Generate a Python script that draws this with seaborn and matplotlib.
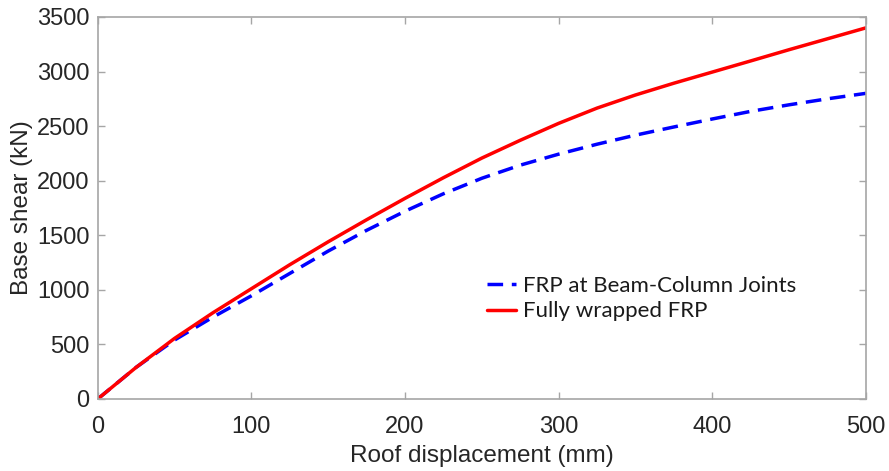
import matplotlib
matplotlib.use("Agg")
import matplotlib.pyplot as plt
import seaborn as sns
import pandas as pd

# Data
displacement = [0, 25, 50, 75, 100, 125, 150, 175, 200, 225, 250, 275, 300,
                325, 350, 375, 400, 425, 450, 475, 500]
shear_joints = [0, 290, 540, 750, 945, 1150, 1355, 1545, 1720, 1880, 2022, 2142,
                2243, 2334, 2417, 2492, 2565, 2635, 2695, 2750, 2800]
shear_full = [0, 290, 555, 790, 1010, 1230, 1440, 1642, 1838, 2027, 2207, 2370,
              2525, 2665, 2785, 2893, 2995, 3097, 3200, 3300, 3400]
series_names = ["FRP at Beam-Column Joints", "Fully wrapped FRP"]
x_ticks = [0, 100, 200, 300, 400, 500]
y_ticks = [0, 500, 1000, 1500, 2000, 2500, 3000, 3500]

df = pd.concat([
    pd.DataFrame({"x": displacement, "y": shear_joints, "s": series_names[0]}),
    pd.DataFrame({"x": displacement, "y": shear_full, "s": series_names[1]}),
])

sns.set_style("white")
plt.rcParams["font.family"] = ["Liberation Sans", "DejaVu Sans"]

fig = plt.figure(figsize=(8.89, 4.71), dpi=100)
ax = fig.add_axes([0.110, 0.153, 0.864, 0.811])

palette = {series_names[0]: "#0000ff", series_names[1]: "#ff0000"}
dashes = {series_names[0]: (4.5, 2.5), series_names[1]: ""}
sns.lineplot(data=df, x="x", y="y", hue="s", style="s", palette=palette,
             dashes=dashes, linewidth=2.5, ax=ax, legend=True,
             hue_order=series_names, style_order=series_names)

ax.set_xlim(0, 500)
ax.set_ylim(0, 3500)
ax.set_xticks(x_ticks)
ax.set_yticks(y_ticks)
text_color = "#262626"
spine_color = "#a6a6a6"
for sp in ax.spines.values():
    sp.set_visible(True)
    sp.set_color(spine_color)
    sp.set_linewidth(1.2)
ax.tick_params(direction="in", length=5, width=1.0, color=spine_color,
               labelcolor=text_color, labelsize=17, top=True, right=True,
               left=True, bottom=True)
ax.tick_params(axis="x", pad=12)
ax.tick_params(axis="y", pad=6)
ax.set_xlabel("Roof displacement (mm)", fontsize=17.5, color=text_color, labelpad=5)
ax.set_ylabel("Base shear (kN)", fontsize=17.5, color=text_color, labelpad=3)

leg = ax.legend(frameon=False, loc="upper left", bbox_to_anchor=(0.5065, 0.322),
                borderaxespad=0, borderpad=0,
                handlelength=1.3, handletextpad=0.35,
                labelspacing=0.25, prop={"family": ["Lato", "DejaVu Sans"], "size": 16})
for t in leg.get_texts():
    t.set_color("#1a1a1a")

fig.savefig("out.png", dpi=100)
